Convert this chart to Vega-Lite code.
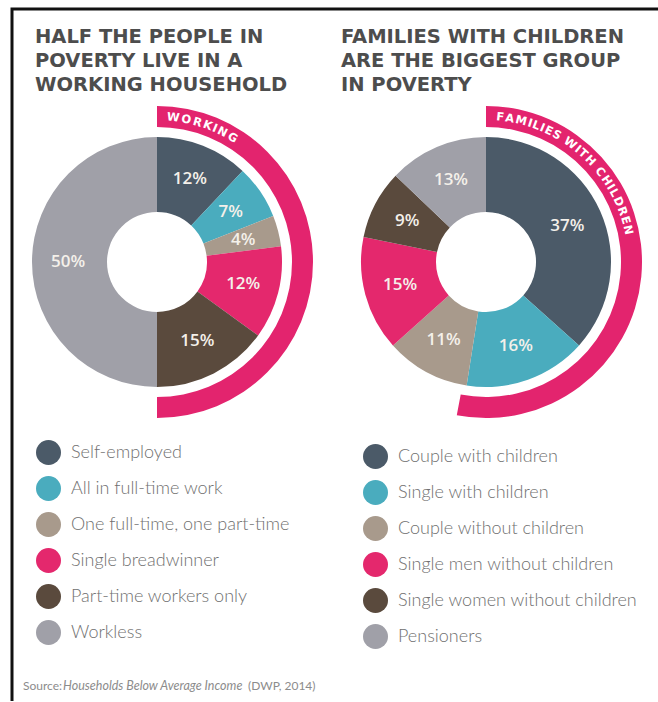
{
  "$schema": "https://vega.github.io/schema/vega-lite/v6.json",
  "width": 658,
  "height": 702,
  "autosize": {"type": "fit", "contains": "padding"},
  "padding": {"left": 12, "top": 9, "right": 0, "bottom": 0},
  "background": "white",
  "view": {"stroke": "#111111", "strokeWidth": 3, "strokeDash": [646, 1340, 700]},
  "config": {
    "view": {"stroke": "#111111", "strokeWidth": 3, "strokeDash": [646, 1340, 700]},
    "legend": {
      "symbolType": "circle",
      "symbolSize": 625,
      "symbolStrokeWidth": 0,
      "symbolOpacity": 1,
      "labelFont": "Lato",
      "labelFontSize": 18,
      "labelFontWeight": 300,
      "labelColor": "#707070",
      "labelOffset": 10,
      "rowPadding": 11,
      "padding": 0,
      "labelLimit": 400
    }
  },
  "datasets": {
    "titles": [
      {"panel": "Working", "line": 1, "text": "HALF THE PEOPLE IN"},
      {"panel": "Working", "line": 2, "text": "POVERTY LIVE IN A"},
      {"panel": "Working", "line": 3, "text": "WORKING HOUSEHOLD"},
      {"panel": "Families", "line": 1, "text": "FAMILIES WITH CHILDREN"},
      {"panel": "Families", "line": 2, "text": "ARE THE BIGGEST GROUP"},
      {"panel": "Families", "line": 3, "text": "IN POVERTY"}
    ],
    "left": [
      {"panel": "Working", "idx": 1, "category": "Self-employed", "share": 0.12},
      {"panel": "Working", "idx": 2, "category": "All in full-time work", "share": 0.07},
      {"panel": "Working", "idx": 3, "category": "One full-time, one part-time", "share": 0.04},
      {"panel": "Working", "idx": 4, "category": "Single breadwinner", "share": 0.12},
      {"panel": "Working", "idx": 5, "category": "Part-time workers only", "share": 0.15},
      {"panel": "Working", "idx": 6, "category": "Workless", "share": 0.50}
    ],
    "right": [
      {"panel": "Families", "idx": 1, "category": "Couple with children", "share": 0.37},
      {"panel": "Families", "idx": 2, "category": "Single with children", "share": 0.16},
      {"panel": "Families", "idx": 3, "category": "Couple without children", "share": 0.11},
      {"panel": "Families", "idx": 4, "category": "Single men without children", "share": 0.15},
      {"panel": "Families", "idx": 5, "category": "Single women without children", "share": 0.09},
      {"panel": "Families", "idx": 6, "category": "Pensioners", "share": 0.13}
    ],
    "rings": [
      {"panel": "Working", "group": "Working", "from": 0, "to": 0.50},
      {"panel": "Families", "group": "Families with children", "from": 0, "to": 0.53}
    ],
    "ringtext": [
      {"panel": "Working", "ch": "W", "deg": 6.4},
      {"panel": "Working", "ch": "O", "deg": 11.6},
      {"panel": "Working", "ch": "R", "deg": 16.2},
      {"panel": "Working", "ch": "K", "deg": 20.4},
      {"panel": "Working", "ch": "I", "deg": 23.4},
      {"panel": "Working", "ch": "N", "deg": 26.7},
      {"panel": "Working", "ch": "G", "deg": 31.3},
      {"panel": "Families", "ch": "F", "deg": 5.6},
      {"panel": "Families", "ch": "A", "deg": 9.4},
      {"panel": "Families", "ch": "M", "deg": 14.0},
      {"panel": "Families", "ch": "I", "deg": 17.6},
      {"panel": "Families", "ch": "L", "deg": 20.2},
      {"panel": "Families", "ch": "I", "deg": 22.8},
      {"panel": "Families", "ch": "E", "deg": 25.6},
      {"panel": "Families", "ch": "S", "deg": 29.1},
      {"panel": "Families", "ch": "W", "deg": 35.4},
      {"panel": "Families", "ch": "I", "deg": 39.1},
      {"panel": "Families", "ch": "T", "deg": 41.8},
      {"panel": "Families", "ch": "H", "deg": 45.8},
      {"panel": "Families", "ch": "C", "deg": 51.7},
      {"panel": "Families", "ch": "H", "deg": 55.9},
      {"panel": "Families", "ch": "I", "deg": 59.0},
      {"panel": "Families", "ch": "L", "deg": 61.6},
      {"panel": "Families", "ch": "D", "deg": 65.5},
      {"panel": "Families", "ch": "R", "deg": 69.6},
      {"panel": "Families", "ch": "E", "deg": 73.3},
      {"panel": "Families", "ch": "N", "deg": 77.3}
    ],
    "sourceRegular": [
      {"part": "a", "text": "Source:"},
      {"part": "c", "text": "(DWP, 2014)"}
    ],
    "sourceItalic": [
      {"part": "b", "text": "Households Below Average Income"}
    ]
  },
  "layer": [
    {
      "data": {"name": "titles"},
      "mark": {"type": "text", "align": "left", "baseline": "alphabetic", "font": "DejaVu Sans", "fontWeight": "bold", "fontSize": 19.5, "color": "#4d4d4d"},
      "encoding": {
        "x": {"field": "panel", "type": "nominal", "scale": {"type": "point", "domain": ["Working", "Families"], "range": [23, 329], "padding": 0}, "axis": null},
        "y": {"field": "line", "type": "ordinal", "scale": {"type": "point", "domain": [1, 2, 3], "range": [34, 82], "padding": 0}, "axis": null},
        "text": {"field": "text", "type": "nominal"}
      }
    },
    {
      "data": {"name": "left"},
      "mark": {"type": "arc", "innerRadius": 50, "outerRadius": 125},
      "encoding": {
        "x": {"field": "panel", "type": "nominal", "scale": {"type": "point", "domain": ["Working", "Families"], "range": [145, 474], "padding": 0}, "axis": null},
        "y": {"field": "panel", "type": "nominal", "scale": {"type": "point", "range": [253, 253], "padding": 0}, "axis": null},
        "theta": {"field": "share", "type": "quantitative", "stack": true},
        "order": {"field": "idx", "type": "quantitative"},
        "color": {
          "field": "category", "type": "nominal",
          "scale": {
            "domain": ["Self-employed", "All in full-time work", "One full-time, one part-time", "Single breadwinner", "Part-time workers only", "Workless"],
            "range": ["#4b5a68", "#4aacbe", "#a89a8c", "#e4286d", "#5a4a3d", "#a0a0a8"]
          },
          "legend": {"orient": "none", "legendX": 24, "legendY": 431, "title": null}
        }
      }
    },
    {
      "data": {"name": "right"},
      "mark": {"type": "arc", "innerRadius": 50, "outerRadius": 125},
      "encoding": {
        "x": {"field": "panel", "type": "nominal", "scale": {"type": "point", "domain": ["Working", "Families"], "range": [145, 474], "padding": 0}, "axis": null},
        "y": {"field": "panel", "type": "nominal", "scale": {"type": "point", "range": [253, 253], "padding": 0}, "axis": null},
        "theta": {"field": "share", "type": "quantitative", "stack": true},
        "order": {"field": "idx", "type": "quantitative"},
        "color": {
          "field": "category", "type": "nominal",
          "scale": {
            "domain": ["Couple with children", "Single with children", "Couple without children", "Single men without children", "Single women without children", "Pensioners"],
            "range": ["#4b5a68", "#4aacbe", "#a89a8c", "#e4286d", "#5a4a3d", "#a0a0a8"]
          },
          "legend": {"orient": "none", "legendX": 351, "legendY": 435, "title": null}
        }
      }
    },
    {
      "data": {"name": "left"},
      "mark": {"type": "text", "radius": 89, "font": "Open Sans", "fontWeight": 600, "fontSize": 17, "color": "#f4f0ea"},
      "encoding": {
        "x": {"field": "panel", "type": "nominal", "scale": {"type": "point", "domain": ["Working", "Families"], "range": [145, 474], "padding": 0}, "axis": null},
        "y": {"field": "panel", "type": "nominal", "scale": {"type": "point", "range": [253, 253], "padding": 0}, "axis": null},
        "theta": {"field": "share", "type": "quantitative", "stack": true},
        "order": {"field": "idx", "type": "quantitative"},
        "text": {"field": "share", "type": "quantitative", "format": ".0%"}
      }
    },
    {
      "data": {"name": "right"},
      "mark": {"type": "text", "radius": 89, "font": "Open Sans", "fontWeight": 600, "fontSize": 17, "color": "#f4f0ea"},
      "encoding": {
        "x": {"field": "panel", "type": "nominal", "scale": {"type": "point", "domain": ["Working", "Families"], "range": [145, 474], "padding": 0}, "axis": null},
        "y": {"field": "panel", "type": "nominal", "scale": {"type": "point", "range": [253, 253], "padding": 0}, "axis": null},
        "theta": {"field": "share", "type": "quantitative", "stack": true},
        "order": {"field": "idx", "type": "quantitative"},
        "text": {"field": "share", "type": "quantitative", "format": ".0%"}
      }
    },
    {
      "data": {"name": "rings"},
      "mark": {"type": "arc", "innerRadius": 135, "outerRadius": 156, "color": "#e3246e"},
      "encoding": {
        "x": {"field": "panel", "type": "nominal", "scale": {"type": "point", "domain": ["Working", "Families"], "range": [145, 474], "padding": 0}, "axis": null},
        "y": {"field": "panel", "type": "nominal", "scale": {"type": "point", "range": [253, 253], "padding": 0}, "axis": null},
        "theta": {"field": "from", "type": "quantitative", "scale": {"domain": [0, 1]}},
        "theta2": {"field": "to"}
      }
    },
    {
      "data": {"name": "ringtext"},
      "mark": {"type": "text", "radius": 145, "font": "DejaVu Sans", "fontWeight": "bold", "fontSize": 11.5, "color": "white", "align": "center", "baseline": "middle"},
      "encoding": {
        "x": {"field": "panel", "type": "nominal", "scale": {"type": "point", "domain": ["Working", "Families"], "range": [145, 474], "padding": 0}, "axis": null},
        "y": {"field": "panel", "type": "nominal", "scale": {"type": "point", "range": [253, 253], "padding": 0}, "axis": null},
        "theta": {"field": "deg", "type": "quantitative", "stack": null, "scale": {"domain": [0, 360]}},
        "angle": {"field": "deg", "type": "quantitative", "scale": {"domain": [0, 360], "range": [0, 360]}},
        "text": {"field": "ch", "type": "nominal"}
      }
    },
    {
      "data": {"name": "sourceRegular"},
      "mark": {"type": "text", "align": "left", "baseline": "alphabetic", "font": "Lato", "fontSize": 12, "color": "#8c8c8c"},
      "encoding": {
        "x": {"field": "part", "type": "nominal", "scale": {"type": "point", "domain": ["a", "c"], "range": [11, 236], "padding": 0}, "axis": null},
        "y": {"field": "part", "type": "nominal", "scale": {"type": "point", "range": [681, 681], "padding": 0}, "axis": null},
        "text": {"field": "text", "type": "nominal"}
      }
    },
    {
      "data": {"name": "sourceItalic"},
      "mark": {"type": "text", "align": "left", "baseline": "alphabetic", "font": "Lato", "fontStyle": "italic", "fontSize": 12.5, "color": "#8c8c8c"},
      "encoding": {
        "x": {"field": "part", "type": "nominal", "scale": {"type": "point", "range": [51, 51], "padding": 0}, "axis": null},
        "y": {"field": "part", "type": "nominal", "scale": {"type": "point", "range": [681, 681], "padding": 0}, "axis": null},
        "text": {"field": "text", "type": "nominal"}
      }
    }
  ],
  "resolve": {
    "scale": {"x": "independent", "y": "independent", "theta": "independent", "color": "independent", "angle": "independent"},
    "legend": {"color": "independent"}
  }
}
